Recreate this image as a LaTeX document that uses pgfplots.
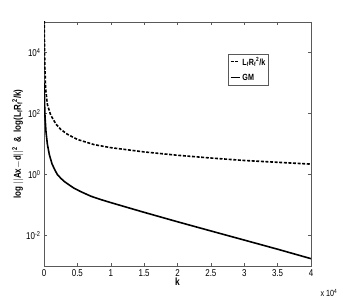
\documentclass[border=0pt]{standalone}
\usepackage{fontspec}
\setmainfont{Liberation Sans}[FakeStretch=0.8]
\usepackage{pgfplots}
\pgfplotsset{compat=1.18}
\begin{document}
\begin{tikzpicture}
\path[use as bounding box] (-44bp,-34bp) rectangle (299bp,266bp);
\begin{axis}[
  scale only axis, width=267bp, height=244bp,
  at={(0,0)}, anchor=south west,
  ymode=log, xmin=0, xmax=4, ymin=1e-3, ymax=1e5,
  xtick={0,0.5,...,4},
  xticklabels={0,0.5,1,1.5,2,2.5,3,3.5,4},
  ytick={1e-2,1,1e2,1e4},
  yticklabels={10\textsuperscript{-2},10\textsuperscript{0},10\textsuperscript{2},10\textsuperscript{4}},
  minor ytick={},
  tick align=inside, tick pos=both, major tick length=3bp,
  axis line style={black!65, line width=0.6pt},
  tick style={black!65, line width=0.5pt},
  ticklabel style={font=\fontsize{10}{11}\selectfont},
  xlabel={\textbf{k}}, xlabel style={font=\fontsize{10.5}{11}\selectfont, yshift=5bp},
  ylabel={\textbf{log $||$Ax$-$d$||$\textsuperscript{2}\ \ \&\ \ log(L\textsubscript{f}R\textsubscript{f}\textsuperscript{2}/k)}},
  ylabel style={font=\fontsize{10}{11}\selectfont, yshift=-4bp},
  legend style={at={(rel axis cs:0.69,0.87)}, anchor=north west, draw=black!65, line width=0.5pt,
     font=\bfseries\fontsize{9}{10}\selectfont, inner sep=1.2bp, row sep=3.6bp,
     legend cell align=left},
  legend image code/.code={\draw[#1, line width=1.8pt] (0bp,0.5bp) -- (9bp,0.5bp);},
  clip=true,
]
\addplot[black, line width=1.6pt, dash pattern=on 3bp off 1.6bp] coordinates {
(0.003,1.58e5) (0.006,3.16e4) (0.012,3981) (0.025,631) (0.05,200) (0.1,89)
(0.18,44.7) (0.25,30.2) (0.35,20.9) (0.5,14.1) (0.75,9.55) (1.0,7.59)
(1.5,5.5) (2.0,4.27) (2.5,3.47) (3.0,2.88) (3.5,2.51) (4.0,2.19)
};
\addlegendentry{L\textsubscript{f}R\textsubscript{f}\textsuperscript{2}/k}
\addplot[black, line width=1.6pt] coordinates {
(0.003,1000) (0.008,251) (0.015,79) (0.03,25) (0.05,10) (0.08,4.47)
(0.12,2.24) (0.16,1.45) (0.2,1.0) (0.25,0.76) (0.3,0.60) (0.35,0.50)
(0.45,0.355) (0.55,0.275) (0.7,0.195) (0.85,0.151) (1.0,0.12)
(1.25,0.083) (1.5,0.0575) (2.0,0.0282) (2.5,0.0141) (3.0,0.00708) (3.5,0.00355) (4.0,0.00174)
};
\addlegendentry{GM}
\end{axis}
\node[font=\fontsize{9}{10}\selectfont, anchor=center] at (285bp,-27bp) {x 10\textsuperscript{4}};
\end{tikzpicture}
\end{document}
